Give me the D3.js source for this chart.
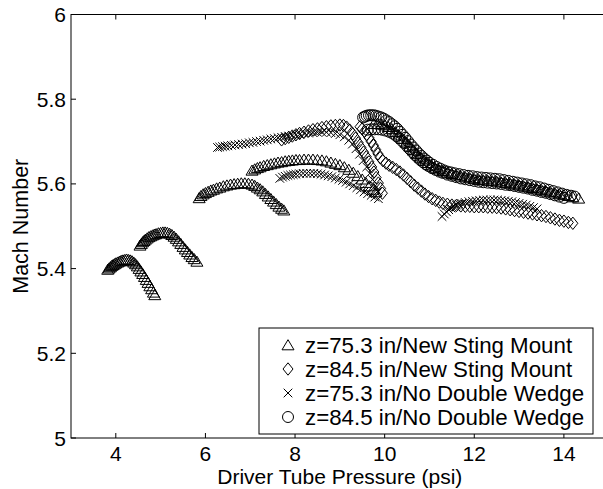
<!DOCTYPE html>
<html>
<head>
<meta charset="utf-8">
<script src="https://cdn.jsdelivr.net/npm/d3@7"></script>
<style>
  body { margin: 0; background: #fff; }
  text { font-family: "Liberation Sans", Arial, Helvetica, sans-serif; fill: #000; }
</style>
</head>
<body>
<svg id="chart" width="603" height="489"></svg>
<script>
// Mach number vs. driver tube pressure, four test configurations.
// Each array holds [pressure (psi), Mach number] samples from several runs.

const xTicks = [4, 6, 8, 10, 12, 14];
const yTicks = [5, 5.2, 5.4, 5.6, 5.8, 6];
const yTickLabels = ["5", "5.2", "5.4", "5.6", "5.8", "6"];
const xTitle = "Driver Tube Pressure (psi)";
const yTitle = "Mach Number";
const seriesNames = [
  "z=75.3 in/New Sting Mount",
  "z=84.5 in/New Sting Mount",
  "z=75.3 in/No Double Wedge",
  "z=84.5 in/No Double Wedge"
];

// z=75.3 in / New Sting Mount (triangles)
const sting753 = [
  [3.82,5.398],[3.85,5.401],[3.88,5.404],[3.91,5.407],[3.94,5.409],[3.97,5.411],[4.00,5.413],[4.04,5.415],
  [4.08,5.417],[4.12,5.419],[4.16,5.420],[4.20,5.421],[4.24,5.422],[4.28,5.421],[4.32,5.420],[4.36,5.418],
  [4.40,5.415],[4.44,5.411],[4.48,5.406],[4.52,5.400],[4.56,5.394],[4.60,5.388],[4.64,5.381],[4.68,5.374],
  [4.72,5.367],[4.76,5.359],[4.80,5.352],[4.84,5.344],[4.87,5.338],

  [4.54,5.455],[4.57,5.459],[4.60,5.463],[4.63,5.466],[4.66,5.469],[4.70,5.472],[4.74,5.475],[4.78,5.477],
  [4.82,5.479],[4.86,5.481],[4.90,5.482],[4.95,5.484],[5.00,5.485],[5.05,5.486],[5.10,5.486],[5.15,5.485],
  [5.20,5.483],[5.25,5.480],[5.30,5.476],[5.35,5.471],[5.40,5.465],[5.45,5.459],[5.50,5.452],[5.55,5.446],
  [5.60,5.440],[5.65,5.434],[5.70,5.428],[5.75,5.423],[5.81,5.417],

  [5.86,5.567],[5.90,5.572],[5.95,5.576],[6.00,5.579],[6.06,5.582],[6.12,5.585],[6.18,5.587],[6.25,5.590],
  [6.32,5.592],[6.40,5.595],[6.48,5.597],[6.56,5.599],[6.64,5.600],[6.72,5.601],[6.80,5.602],[6.88,5.602],
  [6.96,5.601],[7.04,5.599],[7.10,5.596],[7.16,5.592],[7.22,5.588],[7.28,5.583],[7.34,5.577],[7.40,5.571],
  [7.46,5.565],[7.52,5.559],[7.58,5.553],[7.64,5.547],[7.70,5.542],[7.75,5.538],

  [7.04,5.632],[7.10,5.635],[7.16,5.638],[7.22,5.640],[7.30,5.643],[7.38,5.645],[7.46,5.647],[7.54,5.649],
  [7.62,5.651],[7.70,5.652],[7.78,5.654],[7.86,5.655],[7.94,5.656],[8.02,5.657],[8.10,5.657],[8.20,5.658],
  [8.30,5.658],[8.40,5.658],[8.50,5.657],[8.60,5.656],[8.70,5.654],[8.80,5.651],[8.90,5.648],[9.00,5.645],
  [9.10,5.640],[9.20,5.634],[9.30,5.627],[9.40,5.619],[9.50,5.611],[9.58,5.603],[9.66,5.595],[9.74,5.587],
  [9.80,5.581],

  [9.76,5.742],[9.84,5.742],[9.92,5.741],[10.00,5.739],[10.08,5.735],[10.16,5.730],[10.24,5.723],[10.32,5.715],
  [10.40,5.707],[10.48,5.698],[10.56,5.689],[10.64,5.680],[10.72,5.671],[10.80,5.663],[10.88,5.656],[10.96,5.650],
  [11.04,5.644],[11.12,5.639],[11.20,5.635],[11.30,5.631],[11.40,5.627],[11.50,5.624],[11.60,5.621],[11.70,5.618],
  [11.80,5.616],[11.90,5.614],[12.00,5.612],[12.10,5.610],[12.20,5.609],[12.30,5.608],[12.40,5.607],[12.50,5.606],
  [12.60,5.604],[12.70,5.603],[12.80,5.601],[12.90,5.599],[13.00,5.597],[13.10,5.595],[13.20,5.593],[13.30,5.591],
  [13.40,5.588],[13.50,5.586],[13.60,5.583],[13.70,5.581],[13.80,5.578],[13.90,5.576],[14.00,5.574],[14.10,5.572],
  [14.20,5.569],[14.33,5.566]
];

// z=84.5 in / New Sting Mount (diamonds)
const sting845 = [
  [7.70,5.704],[7.78,5.707],[7.86,5.710],[7.94,5.713],[8.02,5.716],[8.10,5.719],[8.20,5.722],[8.30,5.725],
  [8.40,5.728],[8.50,5.730],[8.60,5.733],[8.70,5.735],[8.80,5.737],[8.90,5.738],[9.00,5.739],[9.08,5.738],
  [9.15,5.734],[9.22,5.727],[9.29,5.718],[9.35,5.708],[9.41,5.697],[9.47,5.686],[9.53,5.675],[9.59,5.664],
  [9.65,5.652],[9.71,5.640],[9.76,5.628],[9.81,5.615],[9.86,5.602],[9.91,5.589],[9.95,5.578],

  [9.45,5.735],[9.50,5.730],[9.55,5.724],[9.60,5.717],[9.65,5.709],[9.70,5.700],[9.75,5.691],[9.80,5.681],
  [9.85,5.671],[9.90,5.662],[9.96,5.655],[10.03,5.649],[10.10,5.644],[10.18,5.639],[10.26,5.634],[10.34,5.628],
  [10.42,5.621],[10.50,5.613],[10.58,5.605],[10.66,5.597],[10.74,5.590],[10.82,5.583],[10.90,5.576],[10.98,5.570],
  [11.06,5.565],[11.14,5.561],[11.22,5.557],[11.30,5.554],[11.40,5.552],[11.50,5.550],[11.60,5.549],[11.70,5.548],
  [11.80,5.547],[11.90,5.547],[12.00,5.546],[12.10,5.546],[12.20,5.546],[12.30,5.545],[12.40,5.545],[12.50,5.544],
  [12.60,5.543],[12.70,5.541],[12.80,5.539],[12.90,5.537],[13.00,5.535],[13.10,5.533],[13.20,5.531],[13.30,5.529],
  [13.40,5.527],[13.50,5.525],[13.60,5.523],[13.70,5.520],[13.80,5.517],[13.90,5.514],[14.00,5.512],[14.10,5.509],
  [14.20,5.507]
];

// z=75.3 in / No Double Wedge (crosses)
const wedge753 = [
  [6.27,5.686],[6.32,5.687],[6.38,5.688],[6.44,5.689],[6.50,5.690],[6.58,5.691],[6.66,5.692],[6.74,5.693],
  [6.82,5.694],[6.90,5.695],[6.98,5.697],[7.06,5.698],[7.14,5.700],[7.22,5.701],[7.30,5.703],[7.38,5.704],
  [7.46,5.706],[7.54,5.707],[7.62,5.709],[7.70,5.710],[7.78,5.712],[7.86,5.713],[7.94,5.715],[8.02,5.716],
  [8.10,5.717],[8.20,5.719],[8.30,5.720],[8.40,5.721],[8.50,5.722],[8.60,5.722],[8.70,5.722],[8.80,5.721],
  [8.90,5.719],[9.00,5.716],[9.10,5.711],[9.20,5.703],[9.28,5.694],[9.36,5.683],[9.44,5.670],[9.52,5.655],
  [9.60,5.640],[9.67,5.625],[9.73,5.610],[9.79,5.595],[9.84,5.582],

  [7.66,5.613],[7.72,5.616],[7.78,5.618],[7.84,5.620],[7.90,5.621],[7.96,5.622],[8.02,5.623],[8.10,5.624],
  [8.18,5.625],[8.26,5.625],[8.34,5.625],[8.42,5.625],[8.50,5.624],[8.58,5.623],[8.66,5.621],[8.74,5.619],
  [8.82,5.617],[8.90,5.614],[8.98,5.611],[9.06,5.608],[9.14,5.604],[9.22,5.600],[9.30,5.596],[9.38,5.591],
  [9.46,5.586],[9.54,5.581],[9.62,5.577],[9.70,5.573],[9.78,5.569],[9.86,5.565],

  [11.28,5.523],[11.33,5.529],[11.38,5.534],[11.43,5.539],[11.48,5.543],[11.54,5.547],[11.60,5.550],[11.66,5.552],
  [11.72,5.554],[11.80,5.556],[11.88,5.558],[11.96,5.559],[12.04,5.560],[12.12,5.561],[12.20,5.562],[12.28,5.562],
  [12.36,5.562],[12.44,5.562],[12.52,5.562],[12.60,5.561],[12.68,5.560],[12.76,5.559],[12.84,5.558],[12.92,5.556],
  [13.00,5.554],[13.08,5.552],[13.16,5.550],[13.24,5.547],[13.32,5.544],[13.40,5.541]
];

// z=84.5 in / No Double Wedge (circles)
const wedge845 = [
  [9.52,5.757],[9.56,5.759],[9.60,5.761],[9.65,5.762],[9.70,5.762],[9.75,5.762],[9.80,5.761],[9.86,5.759],
  [9.92,5.757],[9.98,5.754],[10.04,5.750],[10.10,5.746],[10.16,5.741],[10.22,5.736],[10.28,5.730],[10.34,5.723],
  [10.40,5.716],[10.46,5.709],[10.52,5.701],[10.58,5.693],[10.64,5.686],[10.70,5.679],[10.76,5.672],[10.82,5.666],
  [10.88,5.660],[10.94,5.655],[11.00,5.650],[11.08,5.645],[11.16,5.640],[11.24,5.636],[11.32,5.632],[11.40,5.629],
  [11.48,5.627],[11.56,5.625],[11.66,5.623],[11.76,5.621],[11.86,5.619],[11.96,5.618],[12.06,5.616],[12.16,5.615],
  [12.26,5.614],[12.36,5.613],[12.46,5.612],[12.56,5.611],[12.66,5.609],[12.76,5.607],[12.86,5.605],[12.96,5.603],
  [13.06,5.601],[13.16,5.599],[13.26,5.597],[13.36,5.594],[13.46,5.592],[13.56,5.589],[13.66,5.586],[13.76,5.583],
  [13.86,5.580],[13.96,5.577],[14.06,5.574],[14.16,5.572],[14.24,5.570],

  [9.62,5.728],[9.70,5.729],[9.78,5.729],[9.86,5.729],[9.94,5.728],[10.02,5.726],[10.10,5.723],[10.18,5.719],
  [10.26,5.713],[10.32,5.708],[10.38,5.702],[10.44,5.696],[10.50,5.689],[10.56,5.682],[10.62,5.675],[10.68,5.668],
  [10.74,5.662],[10.80,5.656],[10.86,5.651],[10.92,5.646],[10.98,5.642],[11.06,5.637],[11.14,5.633],[11.22,5.629],
  [11.30,5.626],[11.40,5.622],[11.50,5.619],[11.60,5.616],[11.70,5.613],[11.80,5.611],[11.90,5.609],[12.00,5.607],
  [12.10,5.605],[12.20,5.604],[12.30,5.603],[12.40,5.602],[12.50,5.601],[12.60,5.600],[12.70,5.598],[12.80,5.597],
  [12.90,5.595],[13.00,5.593],[13.10,5.591],[13.20,5.589],[13.30,5.586],[13.40,5.584],[13.50,5.581],[13.60,5.579],
  [13.70,5.576],[13.80,5.573],[13.90,5.570],[14.00,5.567]
];

// ---------------------------------------------------------------------------
const svg = d3.select("#chart");
const plot = { left: 71, right: 608.7, top: 14.5, bottom: 438 };

const x = d3.scaleLinear().domain([3, 15]).range([plot.left, plot.right]);
const y = d3.scaleLinear().domain([5, 6]).range([plot.bottom, plot.top]);

// Open marker shapes
const triangle = { draw(c) { c.moveTo(0, -5.3); c.lineTo(6, 4.8); c.lineTo(-6, 4.8); c.closePath(); } };
const diamond  = { draw(c) { c.moveTo(0, -6.2); c.lineTo(5, 0); c.lineTo(0, 6.2); c.lineTo(-5, 0); c.closePath(); } };
const cross    = { draw(c) { const r = 4.3; c.moveTo(-r, -r); c.lineTo(r, r); c.moveTo(r, -r); c.lineTo(-r, r); } };
const circle   = { draw(c) { c.moveTo(5.5, 0); c.arc(0, 0, 5.5, 0, 2 * Math.PI); } };

const series = [
  { name: seriesNames[0], data: sting753, shape: triangle },
  { name: seriesNames[1], data: sting845, shape: diamond },
  { name: seriesNames[2], data: wedge753, shape: cross },
  { name: seriesNames[3], data: wedge845, shape: circle }
];

const markerStyle = sel => sel
  .attr("fill", "none")
  .attr("stroke", "#000")
  .attr("stroke-width", 1);

// Markers
const marks = svg.append("g");
series.forEach(s => {
  const path = d3.symbol().type(s.shape)();
  marks.append("g")
    .selectAll("path")
    .data(s.data)
    .join("path")
    .attr("d", path)
    .attr("transform", d => `translate(${x(d[0])},${y(d[1])})`)
    .call(markerStyle);
});

// Axes box and inward ticks
const frame = svg.append("g").attr("stroke", "#000").attr("stroke-width", 1).attr("fill", "none");
frame.append("rect")
  .attr("x", plot.left).attr("y", plot.top)
  .attr("width", plot.right - plot.left).attr("height", plot.bottom - plot.top);

const tickLen = 5;
xTicks.forEach(t => {
  frame.append("line").attr("x1", x(t)).attr("x2", x(t)).attr("y1", plot.bottom).attr("y2", plot.bottom - tickLen);
  frame.append("line").attr("x1", x(t)).attr("x2", x(t)).attr("y1", plot.top).attr("y2", plot.top + tickLen);
});
yTicks.forEach(t => {
  frame.append("line").attr("x1", plot.left).attr("x2", plot.left + tickLen).attr("y1", y(t)).attr("y2", y(t));
  frame.append("line").attr("x1", plot.right).attr("x2", plot.right - tickLen).attr("y1", y(t)).attr("y2", y(t));
});

// Tick labels
const fs = 21;
svg.append("g").selectAll("text").data(xTicks).join("text")
  .attr("x", d => x(d)).attr("y", 461)
  .attr("text-anchor", "middle").attr("font-size", fs)
  .text(d => d);
svg.append("g").selectAll("text").data(yTicks).join("text")
  .attr("x", plot.left - 5).attr("y", d => y(d)).attr("dy", "0.36em")
  .attr("text-anchor", "end").attr("font-size", fs)
  .text((d, i) => yTickLabels[i]);

// Axis titles
svg.append("text")
  .attr("x", (plot.left + plot.right) / 2).attr("y", 484)
  .attr("text-anchor", "middle").attr("font-size", 21)
  .text(xTitle);
svg.append("text")
  .attr("transform", `translate(28,${(plot.top + plot.bottom) / 2}) rotate(-90)`)
  .attr("text-anchor", "middle").attr("font-size", 21.5)
  .text(yTitle);

// Legend
const legend = svg.append("g");
legend.append("rect")
  .attr("x", 259).attr("y", 328).attr("width", 334).attr("height", 106)
  .attr("fill", "#fff").attr("stroke", "#000").attr("stroke-width", 1);
series.forEach((s, i) => {
  const cy = 345 + i * 24;
  legend.append("path")
    .attr("d", d3.symbol().type(s.shape)())
    .attr("transform", `translate(288,${cy})`)
    .call(markerStyle);
  legend.append("text")
    .attr("x", 305).attr("y", cy).attr("dy", "0.36em")
    .attr("font-size", 22.3)
    .text(s.name);
});
</script>
</body>
</html>
